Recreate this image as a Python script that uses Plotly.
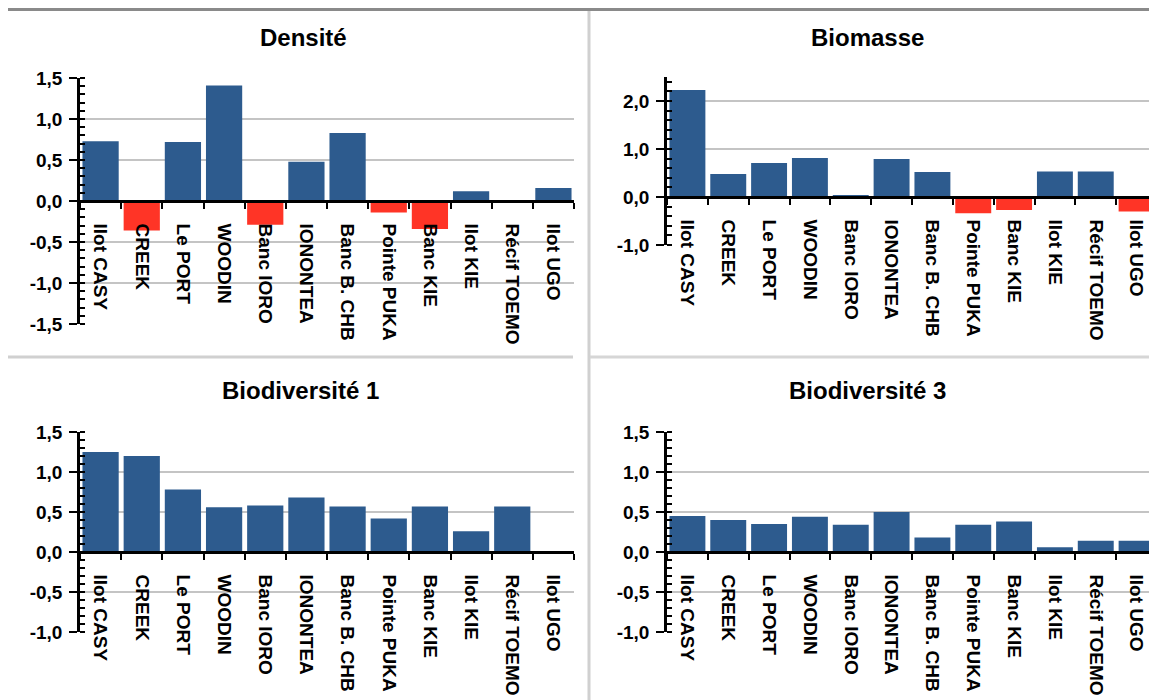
import plotly.graph_objects as go

sites = ["Ilot CASY", "CREEK", "Le PORT", "WOODIN", "Banc IORO", "IONONTEA",
         "Banc B. CHB", "Pointe PUKA", "Banc KIE", "Ilot KIE", "Récif TOEMO", "Ilot UGO"]
densite = [0.73, -0.36, 0.72, 1.41, -0.29, 0.48, 0.83, -0.14, -0.34, 0.12, -0.01, 0.16]
biomasse = [2.23, 0.48, 0.71, 0.81, 0.03, 0.79, 0.52, -0.34, -0.27, 0.53, 0.53, -0.30]
biodiv1 = [1.25, 1.20, 0.78, 0.56, 0.58, 0.68, 0.57, 0.42, 0.57, 0.26, 0.57, 0.0]
biodiv3 = [0.45, 0.40, 0.35, 0.44, 0.34, 0.50, 0.18, 0.34, 0.38, 0.06, 0.14, 0.14]

titles = ["Densité", "Biomasse", "Biodiversité 1", "Biodiversité 3"]
series = [densite, biomasse, biodiv1, biodiv3]
y_ranges = [[-1.5, 1.5], [-1, 2.5], [-1, 1.5], [-1, 1.5]]
y_ticks = [[-1.5, -1.0, -0.5, 0.0, 0.5, 1.0, 1.5],
           [-1.0, 0.0, 1.0, 2.0],
           [-1.0, -0.5, 0.0, 0.5, 1.0, 1.5],
           [-1.0, -0.5, 0.0, 0.5, 1.0, 1.5]]
minor_dticks = [0.1, 0.2, 0.1, 0.1]

W, H = 1157, 700
OFF = 8  # page body margin
BLUE = "#2D5B8E"
RED = "#FF3426"
FONT = "Liberation Sans"


def px(x):
    return (x - OFF) / W


def py(y):
    return 1 - (y - OFF) / H


# panel boxes in screen pixels: (left, right, top, bottom)
boxes = [(80, 574, 78, 324), (667, 1157, 77, 245), (80, 574, 432, 632), (667, 1157, 432, 632)]
title_pos = [(303, 38), (868, 38), (300, 390), (868, 390)]

fig = go.Figure()
layout = {}
for i, (vals, rng) in enumerate(zip(series, y_ranges)):
    n = "" if i == 0 else str(i + 1)
    l, r, t, b = boxes[i]
    xdom = [px(l), px(r)]
    ydom = [py(b), py(t)]
    colors = [BLUE if v >= 0 else RED for v in vals]
    fig.add_trace(go.Bar(x=sites, y=vals, marker=dict(color=colors, line=dict(width=0)),
                         xaxis="x" + n, yaxis="y" + n, showlegend=False))
    zero_pos = ydom[0] + (0 - rng[0]) / (rng[1] - rng[0]) * (ydom[1] - ydom[0])
    layout["xaxis" + n] = dict(
        domain=xdom, anchor="free", position=zero_pos, type="category", automargin=False,
        range=[-0.5, len(sites) - 0.5], showgrid=False, zeroline=False,
        showline=True, linecolor="black", linewidth=2.5,
        ticks="outside", tickson="boundaries", ticklen=6, tickwidth=2, tickcolor="black",
        tickangle=90, ticklabelstandoff=17,
        tickfont=dict(family=FONT, size=19, color="black", weight="bold"),
    )
    layout["yaxis" + n] = dict(
        domain=ydom, anchor="x" + n, range=rng, automargin=False,
        tickmode="array", tickvals=y_ticks[i],
        ticktext=[f"{v:.1f}".replace(".", ",") for v in y_ticks[i]],
        showgrid=True, gridcolor="#C4C4C4", gridwidth=1.5,
        zeroline=False, showline=True, linecolor="black", linewidth=2.5,
        ticks="outside", ticklen=8, tickwidth=2, tickcolor="black", ticklabelstandoff=3,
        minor=dict(ticks="inside", ticklen=5, tickwidth=1.5, tickcolor="black",
                   dtick=minor_dticks[i], tick0=0, showgrid=False),
        tickfont=dict(family=FONT, size=19, color="black", weight="bold"),
    )

annotations = []
for (tx, ty), title in zip(title_pos, titles):
    annotations.append(dict(x=px(tx), y=py(ty), xref="paper", yref="paper",
                            text="<b>" + title + "</b>", showarrow=False,
                            font=dict(family=FONT, size=24, color="black"),
                            xanchor="center", yanchor="middle"))

shapes = [
    dict(type="line", xref="paper", yref="paper", x0=px(0), x1=1, y0=py(9.5), y1=py(9.5),
         line=dict(color="#8A8A8A", width=3)),
    dict(type="line", xref="paper", yref="paper", x0=px(589), x1=px(589), y0=0, y1=py(11),
         line=dict(color="#D0D0D0", width=3)),
    dict(type="line", xref="paper", yref="paper", x0=px(0), x1=px(573), y0=py(357), y1=py(357),
         line=dict(color="#D0D0D0", width=3)),
    dict(type="line", xref="paper", yref="paper", x0=px(590), x1=1, y0=py(357), y1=py(357),
         line=dict(color="#D6D6D6", width=3)),
]

fig.update_layout(
    width=W, height=H, margin=dict(l=0, r=0, t=0, b=0),
    paper_bgcolor="white", plot_bgcolor="white",
    bargap=0.12,
    annotations=annotations, shapes=shapes,
    **layout,
)
fig.write_html("out.html")
